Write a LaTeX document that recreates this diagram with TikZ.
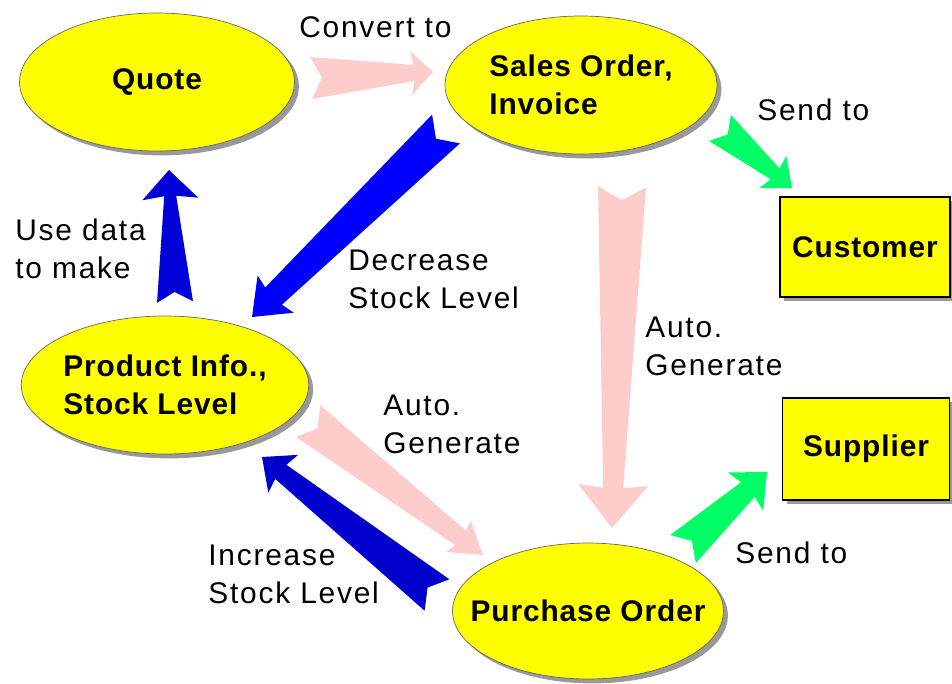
\documentclass[tikz,border=0pt]{standalone}
\usepackage{fontspec}
\setmainfont{Liberation Sans}[LetterSpace=6]
\newfontfamily\ovalfont{Liberation Sans}[LetterSpace=3]
\usetikzlibrary{shapes.geometric, shadows, calc}

\definecolor{ovalyellow}{HTML}{FFFF00}
\definecolor{pinkarrow}{HTML}{FFCCCC}
\definecolor{bluearrow}{HTML}{0000FF}
\definecolor{navyarrow}{HTML}{0000CC}
\definecolor{midarrow}{HTML}{0000D8}
\definecolor{greenarrow}{HTML}{00FF66}

% fat arrow: colour, tail, tip, tail half width, neck half width,
% head half width, head length, notch depth (all in px)
\newcommand{\fatarrow}[8]{%
  \coordinate (fa-n) at ($(#3)!#7*0.02cm!(#2)$);
  \coordinate (fa-b) at ($(#3)!#7*0.02cm+0.06cm!(#2)$);
  \fill[#1] ($(#2)!#4*0.02cm!90:(#3)$) -- ($(#2)!#8*0.02cm!(#3)$)
    -- ($(#2)!#4*0.02cm!-90:(#3)$) -- ($(fa-n)!#5*0.02cm!90:(#2)$)
    -- ($(fa-b)!#6*0.02cm!90:(#2)$) -- (#3) -- ($(fa-b)!#6*0.02cm!-90:(#2)$)
    -- ($(fa-n)!#5*0.02cm!-90:(#2)$) -- cycle;
}

\tikzset{
  oval/.style={ellipse, draw=black!60, fill=ovalyellow, inner sep=0pt, align=left,
    font=\ovalfont\bfseries\fontsize{17}{21.5}\selectfont,
    drop shadow={shadow xshift=2.5pt, shadow yshift=-2.5pt, fill=black!40, opacity=1}},
  card/.style={rectangle, draw=black, line width=0.8pt, fill=ovalyellow, inner sep=0pt,
    font=\ovalfont\bfseries\fontsize{17}{21.5}\selectfont,
    drop shadow={shadow xshift=2.5pt, shadow yshift=-2.5pt, fill=black!40, opacity=1}},
  lbl/.style={anchor=base west, align=left, inner sep=0pt,
    font=\fontsize{17}{21.5}\selectfont}
}

\begin{document}
\begin{tikzpicture}[x=0.02cm, y=-0.02cm]
    \useasboundingbox (0, 0) rectangle (952, 683);

    \node[oval, minimum width=5.5cm, minimum height=2.76cm] (quote) at (157, 82) {Quote};
    \node[oval, minimum width=5.44cm, minimum height=2.76cm] (sales) at (581, 85) {Sales Order,\\Invoice};
    \node[oval, minimum width=5.6cm, minimum height=2.76cm] (product) at (165, 385) {Product Info.,\\Stock Level};
    \node[oval, inner xsep=-13pt, minimum width=5.42cm, minimum height=2.72cm] (purchase) at (588, 611) {Purchase Order};
    \node[card, minimum width=3.4cm, minimum height=2cm] (customer) at (865, 247) {Customer};
    \node[card, minimum width=3.34cm, minimum height=2.04cm] (supplier) at (866, 449) {Supplier};

    \coordinate (conv-s) at (311, 78);
    \coordinate (conv-e) at (433, 72);
    \coordinate (dec-s) at (446, 129);
    \coordinate (dec-e) at (252, 317);
    \coordinate (use-s) at (175, 302);
    \coordinate (use-e) at (169, 170);
    \coordinate (cust-s) at (720, 128);
    \coordinate (cust-e) at (792, 188);
    \coordinate (gen1-s) at (622, 187);
    \coordinate (gen1-e) at (612, 528);
    \coordinate (gen2-s) at (308, 421);
    \coordinate (gen2-e) at (483, 555);
    \coordinate (inc-s) at (437, 595);
    \coordinate (inc-e) at (262, 457);
    \coordinate (supp-s) at (683, 549);
    \coordinate (supp-e) at (767, 472);

    \fatarrow{pinkarrow}{conv-s}{conv-e}{21}{8}{22}{19}{11}
    \fatarrow{bluearrow}{dec-s}{dec-e}{20}{12}{26}{30}{14}
    \fatarrow{midarrow}{use-s}{use-e}{18}{6}{28}{26}{10}
    \fatarrow{greenarrow}{cust-s}{cust-e}{17}{7}{21}{22}{10}
    \fatarrow{pinkarrow}{gen1-s}{gen1-e}{24}{10}{35}{40}{13}
    \fatarrow{pinkarrow}{gen2-s}{gen2-e}{20}{9}{20}{28}{12}
    \fatarrow{navyarrow}{inc-s}{inc-e}{20}{9}{24}{24}{12}
    \fatarrow{greenarrow}{supp-s}{supp-e}{19}{10}{26}{26}{12}

    \node[lbl] (conv-l) at (299, 37) {Convert to};
    \node[lbl] (sendc-l) at (757, 120) {Send to};
    \node[lbl] (use-l) at (15, 278) {Use data\\to make};
    \node[lbl] (dec-l) at (348, 308) {Decrease\\Stock Level};
    \node[lbl] (gen1-l) at (645, 375) {Auto.\\Generate};
    \node[lbl] (gen2-l) at (383, 453) {Auto.\\Generate};
    \node[lbl] (inc-l) at (208, 603) {Increase\\Stock Level};
    \node[lbl] (sends-l) at (735, 563) {Send to};
\end{tikzpicture}
\end{document}
